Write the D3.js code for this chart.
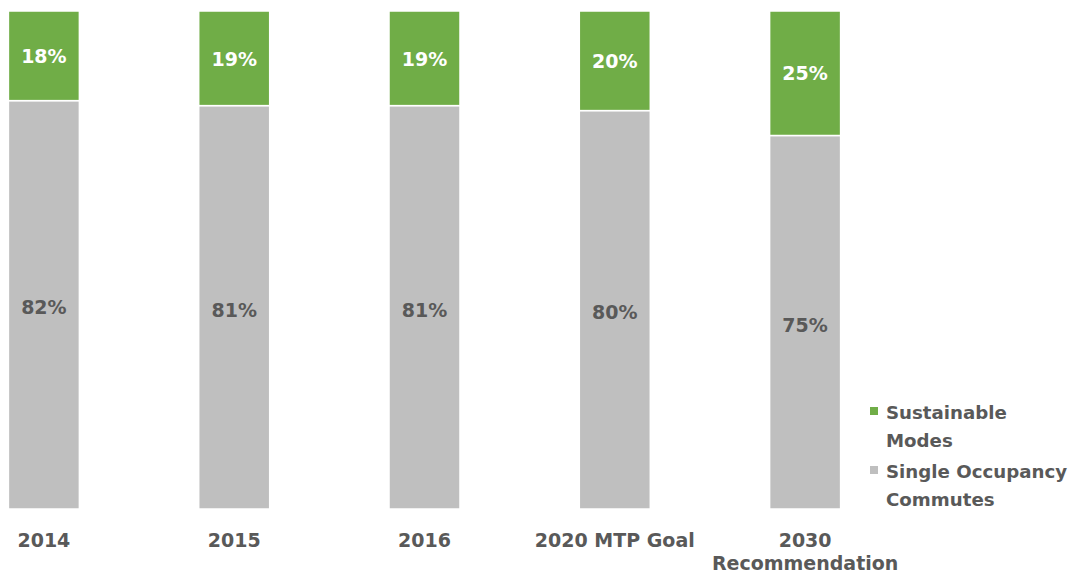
<!DOCTYPE html>
<html>
<head>
<meta charset="utf-8">
<script src="https://cdn.jsdelivr.net/npm/d3@7"></script>
<style>
  html, body { margin: 0; padding: 0; background: #ffffff; }
  svg { display: block; }
  text { font-family: "DejaVu Sans", "Liberation Sans", Arial, sans-serif; font-weight: bold; }
</style>
</head>
<body>
<svg id="chart" width="1089" height="575"></svg>
<script>
// Commute mode share by year (percent)
const categories = ["2014", "2015", "2016", "2020 MTP Goal", "2030\nRecommendation"];
const singleOccupancy = [82, 81, 81, 80, 75];
const sustainableModes = [18, 19, 19, 20, 25];
const seriesNames = ["Sustainable Modes", "Single Occupancy Commutes"];

const colors = { sustainable: "#70AD47", single: "#BFBFBF", text: "#595959" };
const fontStack = "'DejaVu Sans', 'Liberation Sans', Arial, sans-serif";

const svg = d3.select("#chart");

const x = d3.scaleBand()
  .domain(categories)
  .range([8.4, 840.6])
  .paddingInner(0.627)
  .paddingOuter(0);

const y = d3.scaleLinear().domain([0, 100]).range([509, 11]);

const rows = categories.map((c, i) => ({
  cat: c,
  single: singleOccupancy[i],
  sustainable: sustainableModes[i]
}));

const stack = d3.stack().keys(["single", "sustainable"]);
const layers = stack(rows);

const g = svg.append("g");

layers.forEach(layer => {
  const key = layer.key;
  const grp = g.append("g").attr("class", "series-" + key);
  grp.selectAll("rect")
    .data(layer)
    .join("rect")
    .attr("x", d => x(d.data.cat))
    .attr("width", x.bandwidth())
    .attr("y", d => y(d[1]))
    .attr("height", d => y(d[0]) - y(d[1]))
    .attr("fill", colors[key])
    .attr("stroke", "#ffffff")
    .attr("stroke-width", 1.5);

  grp.selectAll("text")
    .data(layer)
    .join("text")
    .attr("x", d => x(d.data.cat) + x.bandwidth() / 2)
    .attr("y", d => (y(d[0]) + y(d[1])) / 2)
    .attr("dy", key === "single" ? "0.5em" : "0.38em")
    .attr("text-anchor", "middle")
    .attr("font-size", 19)
    .attr("fill", key === "sustainable" ? "#ffffff" : colors.text)
    .text(d => (d[1] - d[0]) + "%");
});

// Category axis labels (no axis line or ticks)
const xAxis = d3.axisBottom(x).tickSize(0).tickPadding(0);
const axisG = svg.append("g").attr("transform", "translate(0,509)").call(xAxis);
axisG.select(".domain").remove();
axisG.selectAll(".tick text").each(function (d) {
  const t = d3.select(this);
  const lines = d.split("\n");
  t.text(null)
    .attr("y", 0)
    .attr("dy", null)
    .attr("fill", colors.text)
    .attr("font-size", 19)
    .attr("font-family", fontStack)
    .attr("font-weight", "bold");
  lines.forEach((ln, k) => {
    t.append("tspan").attr("x", 0).attr("y", 38 + k * 23).text(ln);
  });
});

// Legend
const legendItems = [
  { lines: ["Sustainable", "Modes"], color: colors.sustainable, y: 419 },
  { lines: ["Single Occupancy", "Commutes"], color: colors.single, y: 478 }
];
const lg = svg.append("g");
legendItems.forEach(item => {
  lg.append("rect")
    .attr("x", 870).attr("y", item.y - 12)
    .attr("width", 8).attr("height", 8)
    .attr("fill", item.color);
  const t = lg.append("text")
    .attr("font-size", 18.2)
    .attr("fill", colors.text);
  item.lines.forEach((ln, k) => {
    t.append("tspan").attr("x", 886).attr("y", item.y + k * 28).text(ln);
  });
});
</script>
</body>
</html>
